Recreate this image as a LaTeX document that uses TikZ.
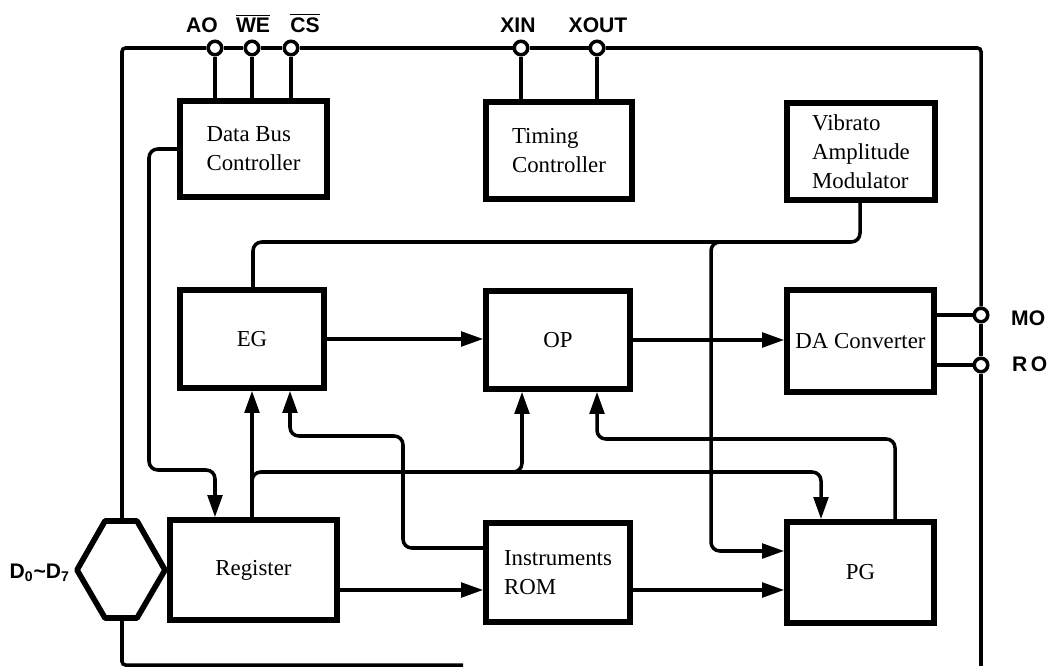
\documentclass[tikz,border=0pt]{standalone}
\usepackage{fontspec}
\setmainfont{Liberation Serif}
\setsansfont{Liberation Sans}
\usetikzlibrary{arrows.meta}

\tikzset{
  block/.style={draw, line width=3.2pt, inner sep=0pt, align=left,
    font=\fontsize{13pt}{16.5pt}\selectfont},
  link/.style={line width=2pt, rounded corners=5pt},
  tip/.style={-{Triangle[length=0.44cm,width=0.29cm]}},
  pin/.style={circle, draw, fill=white, line width=2pt,
    minimum size=0.27cm, inner sep=0pt},
  pinlabel/.style={font=\sffamily\bfseries\fontsize{12pt}{14pt}\selectfont},
}

\begin{document}
\begin{tikzpicture}[x=0.02cm, y=-0.02cm]
  \useasboundingbox (0,0) rectangle (1048,666);

  % blocks
  \node[block, minimum width=2.94cm, minimum height=1.92cm] (dbc)     at (253.5,149)   {Data Bus\\Controller};
  \node[block, minimum width=2.92cm, minimum height=1.94cm] (timing)  at (559,150.5)   {Timing\\Controller};
  \node[block, minimum width=2.96cm, minimum height=1.94cm] (vibrato) at (861,151.5)   {Vibrato\\Amplitude\\Modulator};
  \node[block, minimum width=2.88cm, minimum height=1.96cm] (eg)      at (252,339)     {EG};
  \node[block, minimum width=2.88cm, minimum height=1.96cm] (op)      at (558,340)     {OP};
  \node[block, minimum width=2.94cm, minimum height=2.04cm] (dac)     at (860.5,341)   {DA Converter};
  \node[block, minimum width=3.34cm, minimum height=2.00cm] (reg)     at (253.5,570)   {Register};
  \node[block, minimum width=2.88cm, minimum height=1.98cm] (rom)     at (558,572.5)   {Instruments\\ROM};
  \node[block, minimum width=2.94cm, minimum height=2.02cm] (pg)      at (860.5,572.5) {PG};

  % data bus buffer
  \coordinate (busTop) at (122,521);
  \coordinate (busBot) at (122,618);
  \draw[line width=3.2pt, line join=round]
    (105,521) -- (137,521) -- (165,570) -- (137,618) -- (105,618) -- (77,570) -- cycle;
  \node[pinlabel, anchor=base east] (lblD) at (76,578) {D\textsubscript{0}\textasciitilde D\textsubscript{7}};

  % pins
  \node[pin] (ao)   at (215,48) {};
  \node[pin] (we)   at (252,48) {};
  \node[pin] (cs)   at (291,48) {};
  \node[pin] (xin)  at (521,48) {};
  \node[pin] (xout) at (597,48) {};
  \node[pin] (mo)   at (981,315) {};
  \node[pin] (ro)   at (981,365) {};

  \node[pinlabel, anchor=base] (lblAO)   at (202,32) {AO};
  \node[pinlabel, anchor=base] (lblWE)   at (253,32) {$\overline{\hbox{WE}}$};
  \node[pinlabel, anchor=base] (lblCS)   at (305,32) {$\overline{\hbox{CS}}$};
  \node[pinlabel, anchor=base] (lblXIN)  at (518,32) {XIN};
  \node[pinlabel, anchor=base] (lblXOUT) at (598,32) {XOUT};
  \node[pinlabel, anchor=base west] (lblMO) at (1005,325) {MO};
  \node[pinlabel, anchor=base west] (lblRO) at (1006,371) {R\,O};

  % outer frame
  \draw[link, rounded corners=2pt] (busTop) |- (ao);
  \draw[link] (ao) -- (we);
  \draw[link] (we) -- (cs);
  \draw[link] (cs) -- (xin);
  \draw[link] (xin) -- (xout);
  \draw[link, rounded corners=2pt] (xout) -| (mo);
  \draw[link] (mo) -- (ro);
  \draw[link] (ro) -- (ro |- 0,666);
  \draw[link, rounded corners=2pt] (busBot) |- (463,665);

  % pin lines
  \draw[link] (ao) -- (ao |- dbc.north);
  \draw[link] (we) -- (we |- dbc.north);
  \draw[link] (cs) -- (cs |- dbc.north);
  \draw[link] (xin) -- (xin |- timing.north);
  \draw[link] (xout) -- (xout |- timing.north);
  \draw[link] (dac.east |- mo) -- (mo);
  \draw[link] (dac.east |- ro) -- (ro);

  % signal paths
  \draw[link, tip] (dbc.west) -- (149,149) -- (149,470) -- (215,470) -- (reg.north -| 215,0);
  \draw[link] (vibrato.south -| 860,0) -- (860,242) -- (253,242) -- (eg.north -| 253,0);
  \draw[link, tip] (740,242) -- (711,242) -- (711,551) -- (pg.west |- 0,551);
  \draw[link, tip] (eg.east) -- (op.west |- eg.east);
  \draw[link, tip] (op.east) -- (dac.west |- op.east);
  \draw[link, tip] (reg.east |- 0,590) -- (rom.west |- 0,590);
  \draw[link, tip] (rom.east |- 0,590) -- (pg.west |- 0,590);
  \draw[link, tip] (reg.north -| 252,0) -- (eg.south -| 252,0);
  \draw[link, tip] (252,495) -- (252,472) -- (821,472) -- (pg.north -| 821,0);
  \draw[link, tip] (500,472) -- (522,472) -- (op.south -| 522,0);
  \draw[link, tip] (rom.west |- 0,548) -- (403,548) -- (403,436) -- (290,436) -- (eg.south -| 290,0);
  \draw[link, tip] (pg.north -| 895,0) -- (895,439) -- (597,439) -- (op.south -| 597,0);
\end{tikzpicture}
\end{document}
